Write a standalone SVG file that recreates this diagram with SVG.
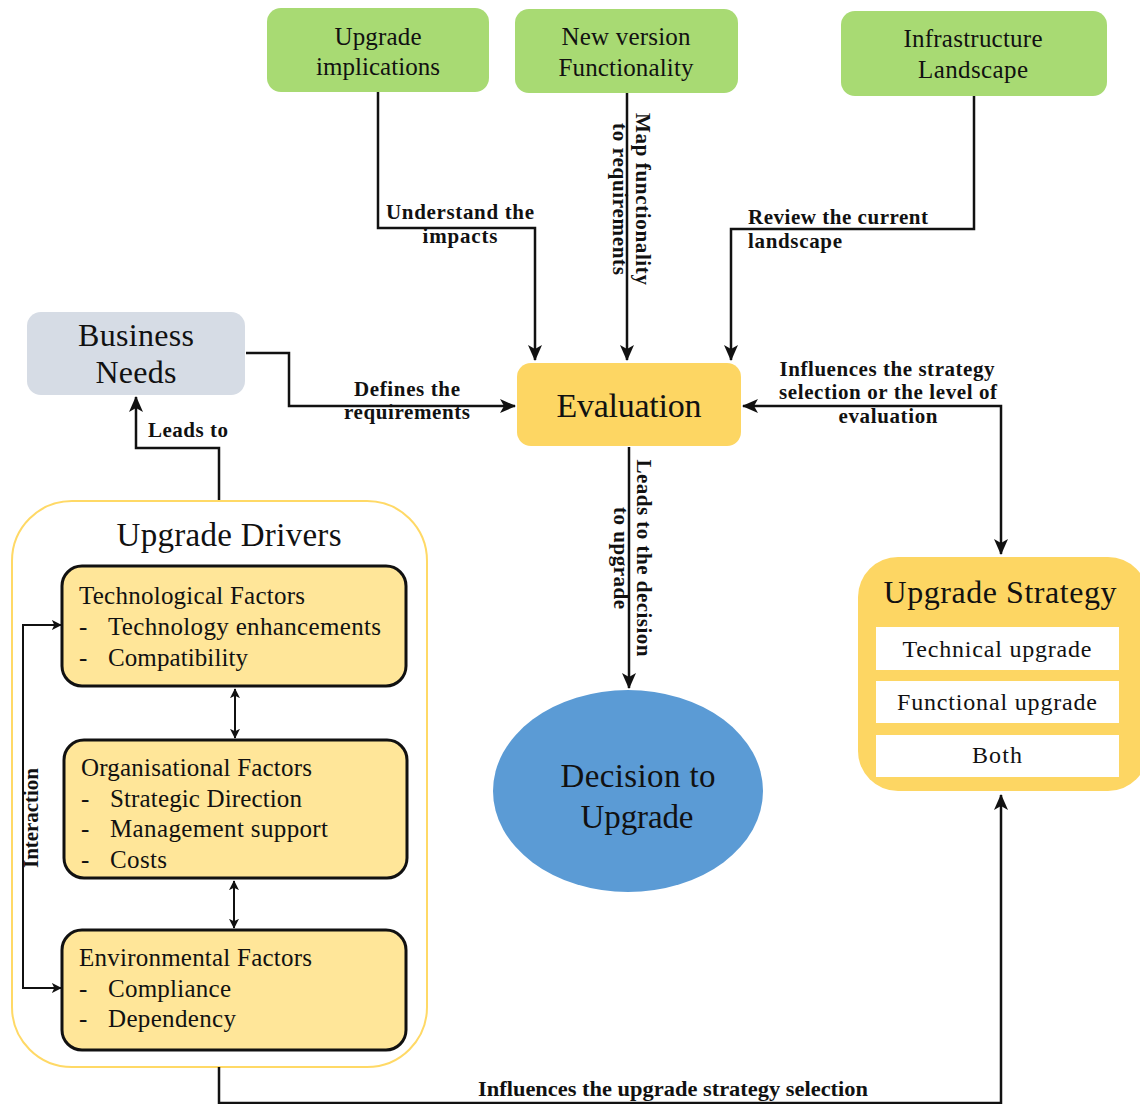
<svg xmlns="http://www.w3.org/2000/svg" width="1140" height="1104" viewBox="0 0 1140 1104">
  <style>
    .node { font-family: "Liberation Serif", "Times New Roman", serif; fill: #111; }
    .lbl { font-family: "Liberation Serif", "Times New Roman", serif; font-weight: bold; font-size: 21px; fill: #111; }
    .green { fill: #a8da73; }
    .conn { fill: none; stroke: #111; stroke-width: 2.5; }
    .thin { fill: none; stroke: #111; stroke-width: 2; }
    .factor { fill: #ffe699; stroke: #111; stroke-width: 3; }
    .opt { fill: #ffffff; }
  </style>
  <defs>
    <marker id="arrow" viewBox="0 0 12 12" refX="11" refY="6" markerWidth="10" markerHeight="10" markerUnits="userSpaceOnUse" orient="auto-start-reverse">
      <path d="M0,0 L12,6 L0,12 L3,6 Z" fill="#111"/>
    </marker>
    <marker id="big" viewBox="0 0 16 16" refX="15" refY="8" markerWidth="16" markerHeight="16" markerUnits="userSpaceOnUse" orient="auto-start-reverse">
      <path d="M0,1 L16,8 L0,15 L4,8 Z" fill="#111"/>
    </marker>
  </defs>
  <rect width="1140" height="1104" fill="#ffffff"/>

  <!-- outer frame of the drivers group sits under the links -->
  <g id="upgrade-drivers">
    <rect x="12" y="501" width="415" height="566" rx="60" fill="#ffffff" stroke="#ffd966" stroke-width="2"/>
    <text class="node" font-size="33" text-anchor="middle" x="229" y="546" textLength="225" lengthAdjust="spacing">Upgrade Drivers</text>
  </g>

  <!-- connectors -->
  <g id="connectors">
    <path class="conn" d="M378,92 V228 H535 V360" marker-end="url(#big)"/>
    <path class="conn" d="M627,93 V360" marker-end="url(#big)"/>
    <path class="conn" d="M974,96 V229 H731 V360" marker-end="url(#big)"/>
    <path class="conn" d="M246,353 H289 V406 H515" marker-end="url(#big)"/>
    <path class="conn" d="M219,500 V448 H136 V397" marker-end="url(#big)"/>
    <path class="conn" d="M743,406 H1001 V554" marker-start="url(#big)" marker-end="url(#big)"/>
    <path class="conn" d="M629,447 V688" marker-end="url(#big)"/>
    <path class="conn" d="M219,1067 V1103 H1001 V795" marker-end="url(#big)"/>
    <path class="thin" d="M235,689 V738" marker-start="url(#arrow)" marker-end="url(#arrow)"/>
    <path class="thin" d="M234,881 V928" marker-start="url(#arrow)" marker-end="url(#arrow)"/>
    <path class="thin" d="M61,625 H23 V988 H61" marker-start="url(#arrow)" marker-end="url(#arrow)"/>

    <text class="lbl" text-anchor="middle" x="460" y="219" textLength="148" lengthAdjust="spacing">Understand the</text>
    <text class="lbl" text-anchor="middle" x="460" y="243" textLength="75" lengthAdjust="spacing">impacts</text>
    <g transform="translate(631,199) rotate(90)">
      <text class="lbl" text-anchor="middle" x="0" y="-5" textLength="172" lengthAdjust="spacing">Map functionality</text>
      <text class="lbl" text-anchor="middle" x="0" y="18" textLength="152" lengthAdjust="spacing">to requirements</text>
    </g>
    <text class="lbl" x="748" y="224" textLength="180" lengthAdjust="spacing">Review the current</text>
    <text class="lbl" x="748" y="248" textLength="94" lengthAdjust="spacing">landscape</text>
    <text class="lbl" text-anchor="middle" x="407" y="396" textLength="106" lengthAdjust="spacing">Defines the</text>
    <text class="lbl" text-anchor="middle" x="407" y="419" textLength="126" lengthAdjust="spacing">requirements</text>
    <text class="lbl" x="148" y="437" textLength="80" lengthAdjust="spacing">Leads to</text>
    <text class="lbl" text-anchor="middle" x="887" y="376" textLength="215" lengthAdjust="spacing">Influences the strategy</text>
    <text class="lbl" text-anchor="middle" x="888" y="399" textLength="218" lengthAdjust="spacing">selection or the level of</text>
    <text class="lbl" text-anchor="middle" x="888" y="423" textLength="99" lengthAdjust="spacing">evaluation</text>
    <g transform="translate(633,558) rotate(90)">
      <text class="lbl" text-anchor="middle" x="0" y="-4" textLength="197" lengthAdjust="spacing">Leads to the decision</text>
      <text class="lbl" text-anchor="middle" x="0" y="19" textLength="102" lengthAdjust="spacing">to upgrade</text>
    </g>
    <text class="lbl" text-anchor="middle" transform="translate(38,818) rotate(-90)" font-size="19" textLength="100" lengthAdjust="spacing">Interaction</text>
    <text class="lbl" text-anchor="middle" x="673" y="1096" textLength="390" lengthAdjust="spacingAndGlyphs">Influences the upgrade strategy selection</text>
  </g>

  <g id="upgrade-implications">
    <rect class="green" x="267" y="8" width="222" height="84" rx="14"/>
    <text class="node" font-size="25" text-anchor="middle" x="378" y="45" textLength="87" lengthAdjust="spacing">Upgrade</text>
    <text class="node" font-size="25" text-anchor="middle" x="378" y="75" textLength="124" lengthAdjust="spacing">implications</text>
  </g>
  <g id="new-version">
    <rect class="green" x="515" y="9" width="223" height="84" rx="14"/>
    <text class="node" font-size="25" text-anchor="middle" x="626" y="45" textLength="129" lengthAdjust="spacing">New version</text>
    <text class="node" font-size="25" text-anchor="middle" x="626" y="76" textLength="135" lengthAdjust="spacing">Functionality</text>
  </g>
  <g id="infrastructure">
    <rect class="green" x="841" y="11" width="266" height="85" rx="14"/>
    <text class="node" font-size="25" text-anchor="middle" x="973" y="47" textLength="139" lengthAdjust="spacing">Infrastructure</text>
    <text class="node" font-size="25" text-anchor="middle" x="973" y="78" textLength="110" lengthAdjust="spacing">Landscape</text>
  </g>

  <g id="business-needs">
    <rect x="27" y="312" width="218" height="83" rx="14" fill="#d6dce5"/>
    <text class="node" font-size="32" text-anchor="middle" x="136" y="346" textLength="116" lengthAdjust="spacing">Business</text>
    <text class="node" font-size="32" text-anchor="middle" x="136" y="383" textLength="81" lengthAdjust="spacing">Needs</text>
  </g>

  <g id="evaluation">
    <rect x="517" y="363" width="224" height="83" rx="14" fill="#fdd663"/>
    <text class="node" font-size="34" text-anchor="middle" x="629" y="417" textLength="145" lengthAdjust="spacing">Evaluation</text>
  </g>

  <g id="decision">
    <ellipse cx="628" cy="791" rx="135" ry="101" fill="#5b9bd5"/>
    <text class="node" font-size="33" text-anchor="middle" x="638" y="787" textLength="155" lengthAdjust="spacing">Decision to</text>
    <text class="node" font-size="33" text-anchor="middle" x="637" y="828" textLength="113" lengthAdjust="spacing">Upgrade</text>
  </g>

  <g id="upgrade-strategy">
    <rect x="858" y="557" width="290" height="234" rx="40" fill="#fdd663"/>
    <text class="node" font-size="32" text-anchor="middle" x="1000" y="603" textLength="233" lengthAdjust="spacing">Upgrade Strategy</text>
    <rect class="opt" x="876" y="627" width="243" height="43"/>
    <text class="node" font-size="24" text-anchor="middle" x="997" y="657" textLength="189" lengthAdjust="spacing">Technical upgrade</text>
    <rect class="opt" x="876" y="681" width="243" height="42"/>
    <text class="node" font-size="24" text-anchor="middle" x="997" y="710" textLength="200" lengthAdjust="spacing">Functional upgrade</text>
    <rect class="opt" x="876" y="735" width="243" height="42"/>
    <text class="node" font-size="24" text-anchor="middle" x="997" y="763" textLength="50" lengthAdjust="spacing">Both</text>
  </g>

  <g id="technological-factors">
    <rect class="factor" x="62" y="566" width="344" height="120" rx="20"/>
    <text class="node" font-size="25" x="79" y="604" textLength="226" lengthAdjust="spacing">Technological Factors</text>
    <text class="node" font-size="25" x="79" y="635">-</text>
    <text class="node" font-size="25" x="108" y="635" textLength="273" lengthAdjust="spacing">Technology enhancements</text>
    <text class="node" font-size="25" x="79" y="666">-</text>
    <text class="node" font-size="25" x="108" y="666" textLength="140" lengthAdjust="spacing">Compatibility</text>
  </g>
  <g id="organisational-factors">
    <rect class="factor" x="64" y="740" width="343" height="138" rx="20"/>
    <text class="node" font-size="25" x="81" y="776" textLength="231" lengthAdjust="spacing">Organisational Factors</text>
    <text class="node" font-size="25" x="81" y="807">-</text>
    <text class="node" font-size="25" x="110" y="807" textLength="192" lengthAdjust="spacing">Strategic Direction</text>
    <text class="node" font-size="25" x="81" y="837">-</text>
    <text class="node" font-size="25" x="110" y="837" textLength="218" lengthAdjust="spacing">Management support</text>
    <text class="node" font-size="25" x="81" y="868">-</text>
    <text class="node" font-size="25" x="110" y="868" textLength="57" lengthAdjust="spacing">Costs</text>
  </g>
  <g id="environmental-factors">
    <rect class="factor" x="62" y="930" width="344" height="120" rx="20"/>
    <text class="node" font-size="25" x="79" y="966" textLength="233" lengthAdjust="spacing">Environmental Factors</text>
    <text class="node" font-size="25" x="79" y="997">-</text>
    <text class="node" font-size="25" x="108" y="997" textLength="123" lengthAdjust="spacing">Compliance</text>
    <text class="node" font-size="25" x="79" y="1027">-</text>
    <text class="node" font-size="25" x="108" y="1027" textLength="128" lengthAdjust="spacing">Dependency</text>
  </g>
</svg>
